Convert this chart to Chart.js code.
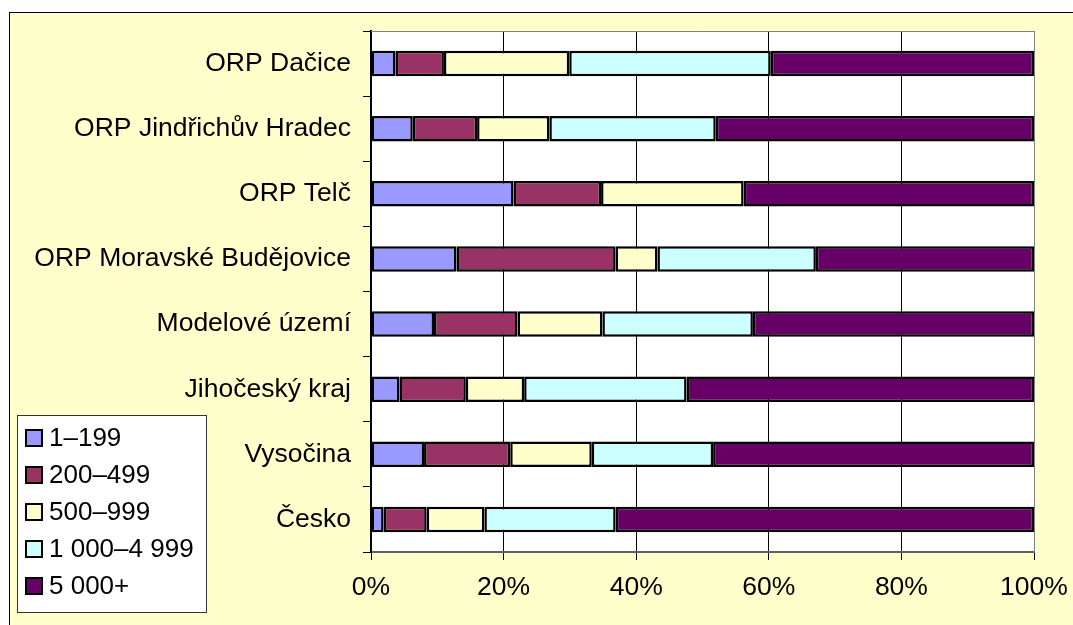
<!DOCTYPE html>
<html>
<head>
<meta charset="utf-8">
<script src="https://cdn.jsdelivr.net/npm/chart.js@4/dist/chart.umd.min.js"></script>
<style>
  html, body { margin:0; padding:0; background:#fff; }
  body { width:1073px; height:625px; position:relative; overflow:hidden; }
  .frame { position:absolute; left:9px; top:12px; right:-2px; bottom:-2px; background:#FFFFCC; border-top:1px solid #000; border-left:1px solid #000; }
  #chart { position:absolute; left:0; top:0; }
</style>
</head>
<body>
<div class="frame"></div>
<canvas id="chart" width="1073" height="625"></canvas>
<script>
// kategorie (shora dolů)
const regions = ["ORP Dačice","ORP Jindřichův Hradec","ORP Telč","ORP Moravské Budějovice","Modelové území","Jihočeský kraj","Vysočina","Česko"];
const sizeGroups = ["1–199","200–499","500–999","1 000–4 999","5 000+"];
const colors = ["#9999FF","#993366","#FFFFCC","#CCFFFF","#660066"];

// podíly v % podle velikostní skupiny
const g1_199      = [3.7, 6.3, 21.5, 12.9,  9.5,  4.3,  8.0,  1.9];
const g200_499    = [7.3, 9.7, 13.2, 24.0, 12.6, 10.0, 13.0,  6.5];
const g500_999    = [18.9,10.9,21.5,  6.3, 12.8,  8.8, 12.3,  8.7];
const g1000_4999  = [30.4,25.1, 0.0, 23.9, 22.7, 24.5, 18.3, 19.8];
const g5000plus   = [39.7,48.0,43.8, 32.9, 42.4, 52.4, 48.4, 63.1];
const xTicks = [0,20,40,60,80,100];

const series = [g1_199, g200_499, g500_999, g1000_4999, g5000plus];
const font = { family:"'Liberation Sans', Arial, sans-serif", size:26.5 };

const plotBg = {
    id:'plotBg',
    beforeDraw(chart){
        const {ctx, chartArea:a} = chart;
        ctx.save();
        ctx.fillStyle = '#fff';
        ctx.fillRect(a.left, a.top, a.right-a.left, a.bottom-a.top);
        ctx.restore();
    },
    afterDraw(chart){
        const {ctx, chartArea:a} = chart;
        ctx.save();
        ctx.strokeStyle = '#808080';
        ctx.lineWidth = 1;
        ctx.beginPath();
        ctx.moveTo(a.left, a.top+0.5); ctx.lineTo(a.right+0.5, a.top+0.5);
        ctx.lineTo(a.right+0.5, a.bottom);
        ctx.stroke();
        ctx.restore();
    }
};

// legenda vlevo dole
const boxLegend = {
    id:'boxLegend',
    afterDraw(chart){
        const ctx = chart.ctx;
        ctx.save();
        ctx.fillStyle = '#fff';
        ctx.fillRect(17, 415, 189, 197);
        ctx.strokeStyle = '#333';
        ctx.lineWidth = 1;
        ctx.strokeRect(17.5, 415.5, 189, 197);
        chart.data.datasets.forEach((ds, i) => {
            const cy = 438 + i*37;
            ctx.fillStyle = ds.backgroundColor;
            ctx.fillRect(26, cy-8, 16, 16);
            ctx.strokeStyle = '#000';
            ctx.lineWidth = 2;
            ctx.strokeRect(26, cy-8, 16, 16);
            ctx.fillStyle = '#000';
            ctx.font = `26px ${font.family}`;
            ctx.textBaseline = 'middle';
            ctx.textAlign = 'left';
            ctx.fillText(ds.label, 49, cy+1);
        });
        ctx.restore();
    }
};

new Chart(document.getElementById('chart'), {
    type:'bar',
    data:{
        labels: regions,
        datasets: series.map((d, i) => ({
            label: sizeGroups[i],
            data: d,
            backgroundColor: colors[i],
            borderColor: '#000',
            borderWidth: 2.5,
            borderSkipped: false,
            barPercentage: 0.39,
            categoryPercentage: 1
        }))
    },
    options:{
        indexAxis:'y',
        responsive:false,
        animation:false,
        layout:{ padding:{ top:31, right:39, bottom:0, left:0 } },
        plugins:{ legend:{ display:false }, tooltip:{ enabled:false } },
        scales:{
            x:{
                stacked:true, min:0, max:100,
                afterBuildTicks: s => { s.ticks = xTicks.map(v => ({ value:v })); },
                ticks:{ callback: v => v + '%', font, color:'#000', padding:12, maxRotation:0 },
                grid:{ color: c => c.tick && c.tick.value === 100 ? '#808080' : '#000', lineWidth:1, tickLength:8, tickColor:'#000' },
                border:{ color:'#606060', width:2 },
                afterFit: s => { s.height = 73; s.paddingLeft = 0; s.paddingRight = 0; }
            },
            y:{
                stacked:true,
                ticks:{ font, color:'#000', padding:12 },
                grid:{ drawOnChartArea:false, tickLength:8, color:'#000' },
                border:{ color:'#000', width:2 },
                afterFit: s => { s.width = 371; s.paddingTop = 0; s.paddingBottom = 0; }
            }
        }
    },
    plugins:[plotBg, boxLegend]
});
</script>
</body>
</html>
